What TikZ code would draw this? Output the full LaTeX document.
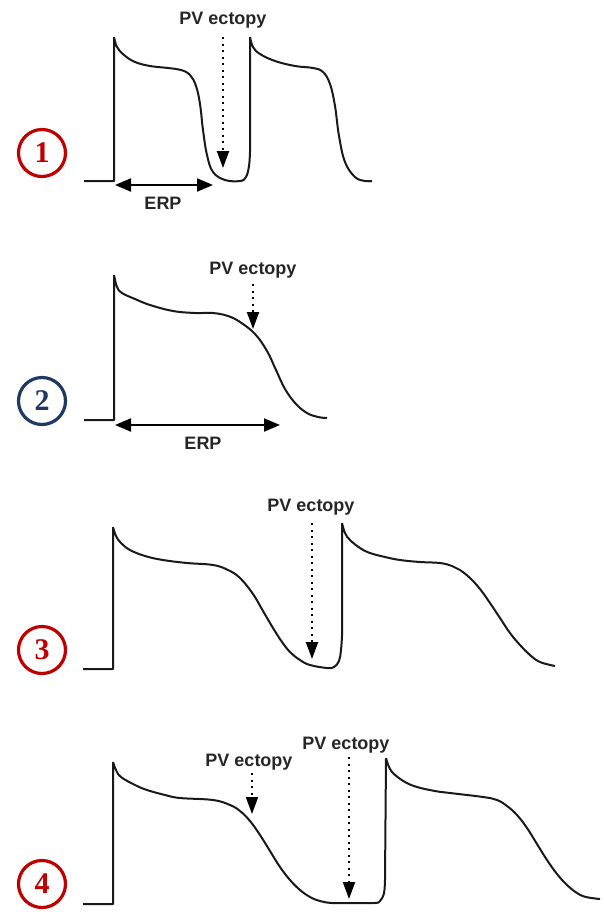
\documentclass[tikz,border=0pt]{standalone}
\usepackage{fontspec}
\setmainfont{Liberation Sans}
\newfontfamily\numfont{Liberation Serif}
\usetikzlibrary{arrows.meta}
\definecolor{cred}{HTML}{C00000}
\definecolor{cnavy}{HTML}{1F3864}
\definecolor{ink}{HTML}{262626}
\begin{document}
\begin{tikzpicture}[x=1pt,y=-1pt,
  trace/.style={line width=2pt, line join=round, black!90},
  lbl/.style={font=\fontsize{18}{18}\selectfont\bfseries, text=ink, inner sep=0pt},
  dotarrow/.style={line width=2pt, dash pattern=on 2pt off 4.5pt, -{Triangle[length=17pt,width=12pt]}, black},
  erparrow/.style={line width=2pt, {Triangle[length=16pt,width=13pt]}-{Triangle[length=16pt,width=13pt]}, black},
  badge/.style={circle, draw=#1, line width=3.2pt, minimum size=47pt, inner sep=0pt, text=#1, font=\numfont\fontsize{30}{30}\selectfont\bfseries}
]
\useasboundingbox (0,0) rectangle (603,916);

% ---------- Panel 1 ----------
\node[badge=cred] (b1) at (42,153) {1};
\draw[trace] (84,181) -- (114,181) -- (114,37)
  plot[smooth, tension=0.65] coordinates {(114,37) (117,47) (124,55) (135,62) (150,66) (168,68) (181,70) (190,75) (196,86) (200,104) (203,130) (207,155) (213,172) (225,180) (240,181) (246,177) (249,166) (250,152)}
  -- (250,37)
  plot[smooth, tension=0.65] coordinates {(250,37) (253,47) (260,54) (275,61) (295,66) (313,68) (323,72) (330,84) (335,106) (339,136) (345,162) (355,177) (365,181) (372,181)};
\node[lbl] (t1) at (223,20) {PV ectopy};
\coordinate (a1s) at (223,37);
\coordinate (a1e) at (223,168);
\draw[dotarrow] (a1s) -- (a1e);
\coordinate (e1a) at (115,185);
\coordinate (e1b) at (213,185);
\draw[erparrow] (e1a) -- (e1b);
\node[lbl] (erp1) at (163,203) {ERP};

% ---------- Panel 2 ----------
\node[badge=cnavy] (b2) at (42,401) {2};
\draw[trace] (84,420) -- (114,420) -- (114,275)
  plot[smooth, tension=0.65] coordinates {(114,275) (117,287) (122,293) (135,299) (150,305) (173,311) (195,313) (213,313) (228,316) (240,322) (255,334) (267,351) (276,370) (285,389) (296,404) (307,413) (318,417) (327,418)};
\node[lbl] (t2) at (253,270) {PV ectopy};
\coordinate (a2s) at (253,284);
\coordinate (a2e) at (253,329);
\draw[dotarrow] (a2s) -- (a2e);
\coordinate (e2a) at (115,425);
\coordinate (e2b) at (280,425);
\draw[erparrow] (e2a) -- (e2b);
\node[lbl] (erp2) at (203,443) {ERP};

% ---------- Panel 3 ----------
\node[badge=cred] (b3) at (42,650) {3};
\draw[trace] (83,669) -- (113,669) -- (113,527)
  plot[smooth, tension=0.65] coordinates {(113,527) (116,536) (121,543) (130,550) (145,556) (163,560) (187,563) (213,565) (228,570) (240,578) (253,594) (263,611) (273,628) (282,642) (290,652) (300,660) (310,665) (327,668) (334,667) (339,661) (341,650) (342,636)}
  -- (342,523)
  plot[smooth, tension=0.65] coordinates {(342,523) (345,533) (350,540) (360,548) (370,553) (385,557) (400,560) (420,562) (440,563) (452,566) (460,570) (470,578) (480,589) (490,603) (500,618) (510,633) (520,645) (530,655) (540,662) (555,666)};
\node[lbl] (t3) at (311,507) {PV ectopy};
\coordinate (a3s) at (312,523);
\coordinate (a3e) at (312,659);
\draw[dotarrow] (a3s) -- (a3e);

% ---------- Panel 4 ----------
\node[badge=cred] (b4) at (42,884) {4};
\draw[trace] (83,904) -- (113,904) -- (113,762)
  plot[smooth, tension=0.65] coordinates {(113,762) (116,770) (121,777) (135,785) (147,790) (165,795) (180,798) (213,800) (230,805) (240,811) (250,821) (260,835) (270,851) (280,867) (290,880) (300,890) (310,897) (320,901) (332,903) (350,903) (374,903) (380,901) (384,893) (385,880)}
  -- (386,758)
  plot[smooth, tension=0.65] coordinates {(386,758) (389,767) (394,774) (405,782) (417,787) (435,791) (450,793) (483,797) (497,800) (507,806) (517,815) (527,828) (537,844) (547,860) (557,874) (567,885) (577,893) (586,897) (600,899)};
\node[lbl] (t4a) at (249,762) {PV ectopy};
\coordinate (a4s) at (252,773);
\coordinate (a4e) at (252,814);
\draw[dotarrow] (a4s) -- (a4e);
\node[lbl] (t4b) at (346,745) {PV ectopy};
\coordinate (a5s) at (349,757);
\coordinate (a5e) at (349,899);
\draw[dotarrow] (a5s) -- (a5e);
\end{tikzpicture}
\end{document}
